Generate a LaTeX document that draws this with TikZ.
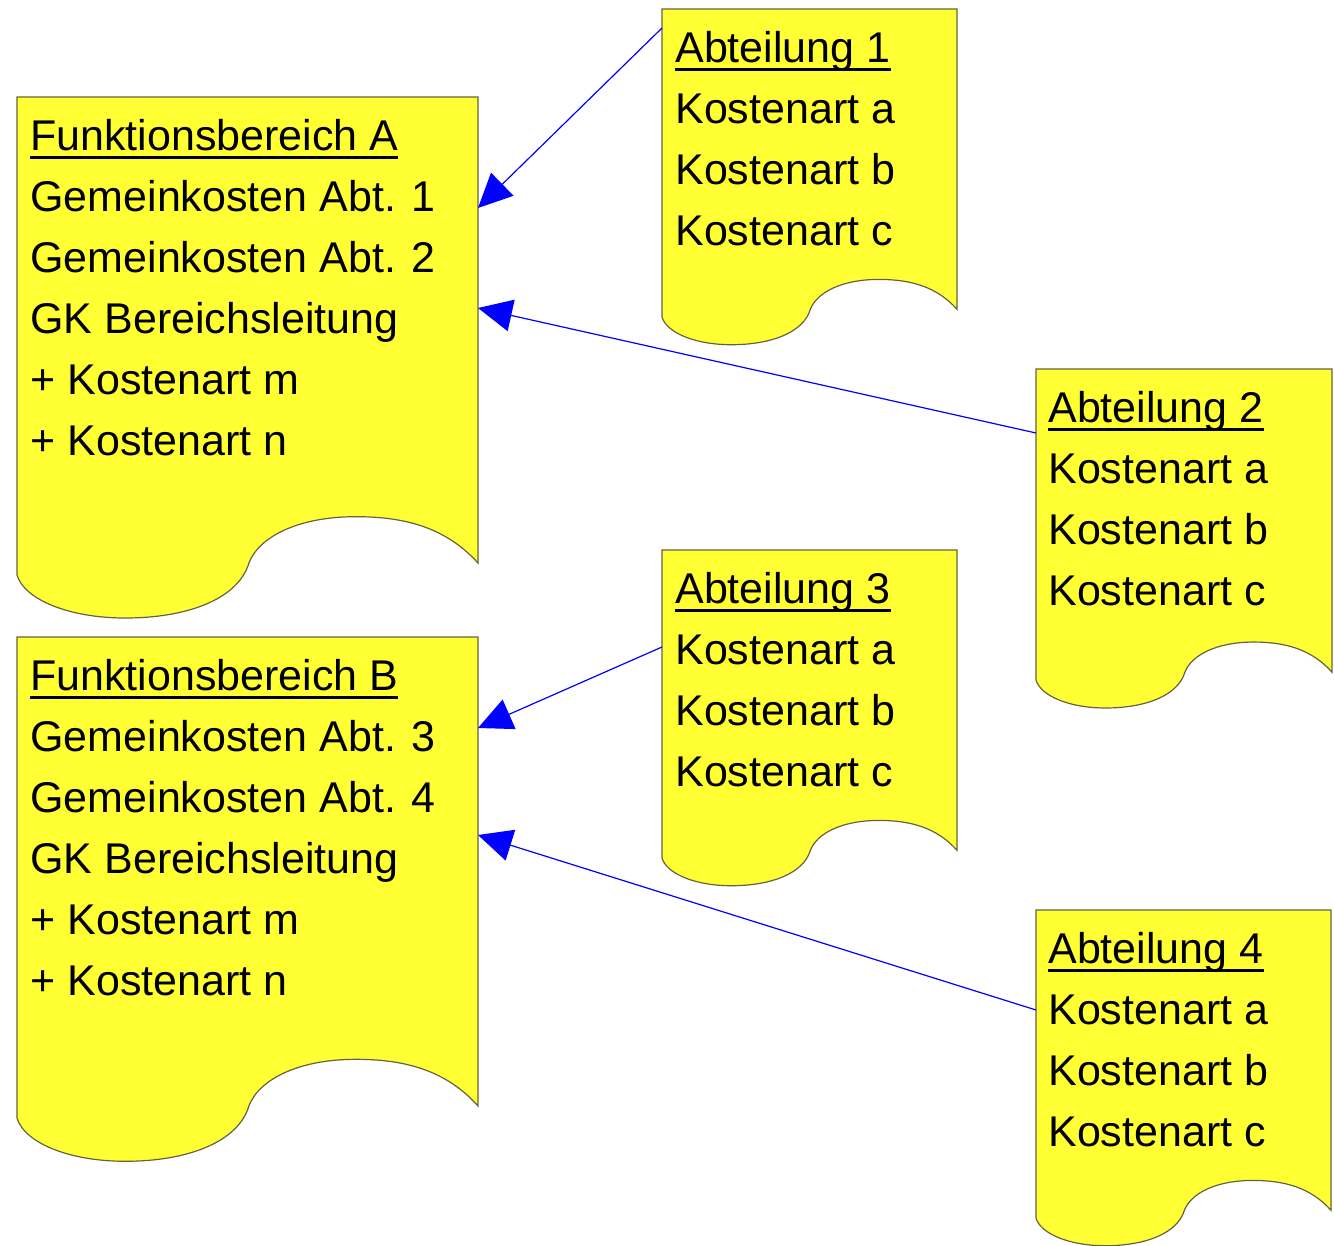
\documentclass[tikz,border=0pt]{standalone}
\usepackage{fontspec}
\setmainfont{Liberation Sans}
\usetikzlibrary{arrows.meta}
\definecolor{docyellow}{RGB}{255,255,51}
\definecolor{docline}{RGB}{100,100,60}
\newcommand\ulhead[1]{\setbox0\hbox{#1}\rlap{\rule[-4pt]{\wd0}{1.2pt}}\box0}
\tikzset{
  docshape/.pic={
    \filldraw[fill=docyellow, draw=docline, line width=0.6pt]
      (0,0) -- (1,0) -- (1,0.975)
      .. controls (0.93,0.9) and (0.84,0.878) .. (0.735,0.878)
      .. controls (0.61,0.878) and (0.525,0.92) .. (0.503,0.975)
      .. controls (0.48,1.05) and (0.37,1.09) .. (0.235,1.09)
      .. controls (0.11,1.09) and (0.015,1.05) .. (0,1) -- cycle;
  },
  doctext/.style={anchor=north west, inner sep=0pt, align=left,
    font=\fontsize{21.5}{30.5}\selectfont},
  flow/.style={draw=blue, line width=0.6pt, -{Triangle[length=17pt,width=16pt]}, fill=blue},
}
\begin{document}
\begin{tikzpicture}[x=0.5pt, y=-0.5pt]
  \useasboundingbox (0,0) rectangle (1334,1246);
  % document shapes
  \pic[xscale=461, yscale=478] at (17,97) {docshape};
  \pic[xscale=461, yscale=481] at (17,637) {docshape};
  \pic[xscale=295, yscale=308] at (662,9) {docshape};
  \pic[xscale=296, yscale=311] at (1036,369) {docshape};
  \pic[xscale=295, yscale=308] at (662,550) {docshape};
  \pic[xscale=295, yscale=308] at (1036,910) {docshape};
  % texts
  \node[doctext] (fbA) at (30,119) {\ulhead{Funktionsbereich A}\\Gemeinkosten Abt. 1\\Gemeinkosten Abt. 2\\GK Bereichsleitung\\+ Kostenart m\\+ Kostenart n};
  \node[doctext] (fbB) at (30,659) {\ulhead{Funktionsbereich B}\\Gemeinkosten Abt. 3\\Gemeinkosten Abt. 4\\GK Bereichsleitung\\+ Kostenart m\\+ Kostenart n};
  \node[doctext] (abt1) at (675,31) {\ulhead{Abteilung 1}\\Kostenart a\\Kostenart b\\Kostenart c};
  \node[doctext] (abt2) at (1048,391) {\ulhead{Abteilung 2}\\Kostenart a\\Kostenart b\\Kostenart c};
  \node[doctext] (abt3) at (675,572) {\ulhead{Abteilung 3}\\Kostenart a\\Kostenart b\\Kostenart c};
  \node[doctext] (abt4) at (1048,932) {\ulhead{Abteilung 4}\\Kostenart a\\Kostenart b\\Kostenart c};
  % connector ends
  \coordinate (abt1out) at (662,28);
  \coordinate (abt2out) at (1036,433);
  \coordinate (abt3out) at (662,647);
  \coordinate (abt4out) at (1036,1010);
  \coordinate (fbAin1) at (478,208);
  \coordinate (fbAin2) at (478,308);
  \coordinate (fbBin1) at (478,728);
  \coordinate (fbBin2) at (478,835);
  \begin{scope}[flow]
    \draw (abt1out) -- (fbAin1);
    \draw (abt2out) -- (fbAin2);
    \draw (abt3out) -- (fbBin1);
    \draw (abt4out) -- (fbBin2);
  \end{scope}
\end{tikzpicture}
\end{document}
